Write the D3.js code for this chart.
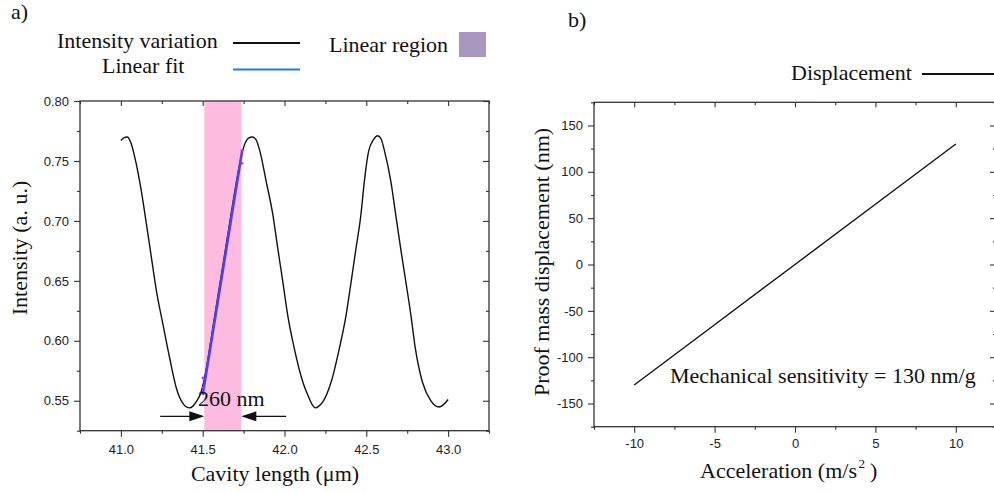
<!DOCTYPE html>
<html>
<head>
<meta charset="utf-8">
<script src="https://cdn.jsdelivr.net/npm/d3@7"></script>
<style>
  html, body { margin: 0; padding: 0; background: #fff; }
  svg { display: block; }
  .tick text { font-family: "Liberation Sans", Arial, sans-serif; font-size: 13px; fill: #222; }
  .serif { font-family: "Liberation Serif", "Times New Roman", serif; fill: #111; }
</style>
</head>
<body>
<svg id="fig" width="994" height="493"></svg>
<script>
// ---- panel a: interferometric intensity vs cavity length ----
const cavityLength = [41.00, 41.02, 41.04, 41.06, 41.085, 41.126, 41.157, 41.187, 41.218, 41.258, 41.299,
  41.34, 41.38, 41.40, 41.42, 41.44, 41.46, 41.49, 41.52, 41.56, 41.60, 41.64, 41.68, 41.72, 41.745,
  41.78, 41.803, 41.825, 41.848, 41.888, 41.929, 41.959, 41.99, 42.02, 42.06, 42.112, 42.152, 42.17,
  42.189, 42.21, 42.234, 42.285, 42.335, 42.376, 42.407, 42.437, 42.467, 42.488, 42.514, 42.545,
  42.569, 42.59, 42.61, 42.65, 42.68, 42.71, 42.742, 42.773, 42.80, 42.843, 42.894, 42.92, 42.945,
  42.97, 43.00];
const intensity = [0.767, 0.7695, 0.770, 0.7655, 0.753, 0.724, 0.6965, 0.669, 0.641, 0.613, 0.585,
  0.560, 0.5476, 0.5448, 0.544, 0.5455, 0.549, 0.557, 0.575, 0.609, 0.643, 0.677, 0.711, 0.743, 0.759,
  0.769, 0.770, 0.768, 0.759, 0.733, 0.705, 0.677, 0.649, 0.621, 0.5935, 0.5656, 0.5517, 0.5465,
  0.544, 0.5455, 0.549, 0.5656, 0.5935, 0.621, 0.649, 0.677, 0.705, 0.733, 0.758, 0.768,
  0.771, 0.7685, 0.759, 0.733, 0.705, 0.677, 0.649, 0.621, 0.5935, 0.5656, 0.550, 0.546, 0.5448,
  0.5465, 0.551];

// linear fit across the linear region
const fitX = [41.50, 41.742];
const fitY = [0.555, 0.759];
// end samples of the linear region
const regionPtsX = [41.502, 41.502, 41.502, 41.74, 41.74];
const regionPtsY = [0.569, 0.561, 0.556, 0.7585, 0.748];
const regionColors = ["#e020d0", "#e020d0", "#1040f0", "#e020d0", "#e020d0"];
const linearRegion = [41.51, 41.736];

const xTicksA = [41.0, 41.5, 42.0, 42.5, 43.0];
const xMinorA = [40.75, 41.25, 41.75, 42.25, 42.75, 43.25];
const yTicksA = [0.55, 0.60, 0.65, 0.70, 0.75, 0.80];
const yMinorA = [0.525, 0.575, 0.625, 0.675, 0.725, 0.775];

// ---- panel b: proof mass displacement vs acceleration ----
const acceleration = [-10, -5, 0, 5, 10];
const displacement = [-130, -65, 0, 65, 130];
const xTicksB = [-10, -5, 0, 5, 10];
const xMinorB = [-12.5, -7.5, -2.5, 2.5, 7.5, 12.5];
const yTicksB = [-150, -100, -50, 0, 50, 100, 150];
const yMinorB = [-175, -125, -75, -25, 25, 75, 125, 175];

const svg = d3.select("#fig");
const axisColor = "#333";
// plain hyphen for negative tick labels
const intFmt = d => String(d);

function frame(x, y, o) {
  const [x0, x1] = x.range();
  const [y0, y1] = y.range(); // y0 bottom, y1 top
  const g = svg.append("g");

  const styleAxis = sel => {
    sel.select(".domain").remove();
    sel.selectAll(".tick line").attr("stroke", axisColor).attr("stroke-width", 1.1);
  };

  // bottom: outward ticks with labels
  g.append("g").attr("transform", `translate(0,${y0})`)
    .call(d3.axisBottom(x).tickValues(o.xMajor).tickSize(6).tickPadding(o.xPad).tickFormat(o.xFmt))
    .call(styleAxis);
  g.append("g").attr("transform", `translate(0,${y0})`)
    .call(d3.axisBottom(x).tickValues(o.xMinor).tickSize(3).tickFormat(""))
    .call(styleAxis);
  // top: inward ticks
  g.append("g").attr("transform", `translate(0,${y1})`)
    .call(d3.axisBottom(x).tickValues(o.xMajor).tickSize(5).tickFormat(""))
    .call(styleAxis);
  g.append("g").attr("transform", `translate(0,${y1})`)
    .call(d3.axisBottom(x).tickValues(o.xMinor).tickSize(3).tickFormat(""))
    .call(styleAxis);
  // left: outward ticks with labels
  g.append("g").attr("transform", `translate(${x0},0)`)
    .call(d3.axisLeft(y).tickValues(o.yMajor).tickSize(6).tickPadding(5).tickFormat(o.yFmt))
    .call(styleAxis);
  g.append("g").attr("transform", `translate(${x0},0)`)
    .call(d3.axisLeft(y).tickValues(o.yMinor).tickSize(3).tickFormat(""))
    .call(styleAxis);
  // right: inward ticks
  g.append("g").attr("transform", `translate(${x1},0)`)
    .call(d3.axisLeft(y).tickValues(o.yMajor).tickSize(6).tickFormat(""))
    .call(styleAxis);
  g.append("g").attr("transform", `translate(${x1},0)`)
    .call(d3.axisLeft(y).tickValues(o.yMinor).tickSize(3).tickFormat(""))
    .call(styleAxis);

  g.append("rect")
    .attr("x", x0).attr("y", y1).attr("width", x1 - x0).attr("height", y0 - y1)
    .attr("fill", "none").attr("stroke", axisColor).attr("stroke-width", 1.3);
  return g;
}

// ================= panel a =================
const xA = d3.scaleLinear().domain([40.75, 43.25]).range([80, 489]);
const yA = d3.scaleLinear().domain([0.525, 0.80]).range([430.7, 101]);

// linear region band
svg.append("rect")
  .attr("x", xA(linearRegion[0])).attr("y", yA(0.80))
  .attr("width", xA(linearRegion[1]) - xA(linearRegion[0]))
  .attr("height", yA(0.525) - yA(0.80))
  .attr("fill", "#fdbcdf");

// intensity curve
svg.append("path")
  .datum(cavityLength.map((c, i) => [c, intensity[i]]))
  .attr("fill", "none").attr("stroke", "#111").attr("stroke-width", 1.4)
  .attr("stroke-linejoin", "round")
  .attr("d", d3.line().x(d => xA(d[0])).y(d => yA(d[1])).curve(d3.curveMonotoneX));

// linear fit
svg.append("path")
  .datum(fitX.map((c, i) => [c, fitY[i]]))
  .attr("fill", "none").attr("stroke", "#5340e4").attr("stroke-width", 2.6)
  .attr("d", d3.line().x(d => xA(d[0])).y(d => yA(d[1])));

svg.selectAll("circle.rp").data(regionPtsX).join("circle")
  .attr("class", "rp")
  .attr("cx", d => xA(d)).attr("cy", (d, i) => yA(regionPtsY[i]))
  .attr("r", 1.4).attr("fill", (d, i) => regionColors[i]);

frame(xA, yA, {
  xMajor: xTicksA, xMinor: xMinorA, yMajor: yTicksA, yMinor: yMinorA,
  xFmt: d3.format(".1f"), yFmt: d3.format(".2f"), xPad: 8
});

// width annotation arrows
const arrowY = yA(0.537);
function arrow(from, to) {
  const x0 = xA(from), x1 = xA(to);
  const dir = Math.sign(x1 - x0);
  svg.append("line").attr("x1", x0).attr("x2", x1 - dir * 12)
    .attr("y1", arrowY).attr("y2", arrowY).attr("stroke", "#111").attr("stroke-width", 1.3);
  svg.append("path")
    .attr("d", `M${x1},${arrowY} L${x1 - dir * 15},${arrowY - 5} L${x1 - dir * 15},${arrowY + 5} Z`)
    .attr("fill", "#111");
}
arrow(41.24, linearRegion[0]);
arrow(42.01, linearRegion[1]);
svg.append("text").attr("class", "serif")
  .attr("x", xA(41.675)).attr("y", yA(0.5455)).attr("text-anchor", "middle")
  .attr("font-size", 22).text("260 nm");

// titles & legend, panel a
svg.append("text").attr("class", "serif").attr("x", 11).attr("y", 19)
  .attr("font-size", 22).text("a)");
svg.append("text").attr("class", "serif")
  .attr("transform", "translate(27,248) rotate(-90)").attr("text-anchor", "middle")
  .attr("font-size", 22).text("Intensity (a. u.)");
svg.append("text").attr("class", "serif")
  .attr("x", 275).attr("y", 481).attr("text-anchor", "middle")
  .attr("font-size", 22).text("Cavity length (μm)");

svg.append("text").attr("class", "serif").attr("x", 57).attr("y", 48)
  .attr("font-size", 22).text("Intensity variation");
svg.append("line").attr("x1", 233).attr("x2", 300).attr("y1", 43).attr("y2", 43)
  .attr("stroke", "#111").attr("stroke-width", 2);
svg.append("text").attr("class", "serif").attr("x", 102).attr("y", 73)
  .attr("font-size", 22).text("Linear fit");
svg.append("line").attr("x1", 233).attr("x2", 300).attr("y1", 69.5).attr("y2", 69.5)
  .attr("stroke", "#1f7fd6").attr("stroke-width", 2);
svg.append("text").attr("class", "serif").attr("x", 329).attr("y", 52)
  .attr("font-size", 22).text("Linear region");
svg.append("rect").attr("x", 459).attr("y", 32).attr("width", 27).attr("height", 25)
  .attr("fill", "#a897c0");

// ================= panel b =================
const xB = d3.scaleLinear().domain([-12.5, 12.5]).range([594, 996]);
const yB = d3.scaleLinear().domain([-175, 175]).range([426.7, 102.3]);

svg.append("path")
  .datum(acceleration.map((a, i) => [a, displacement[i]]))
  .attr("fill", "none").attr("stroke", "#111").attr("stroke-width", 1.4)
  .attr("d", d3.line().x(d => xB(d[0])).y(d => yB(d[1])));

frame(xB, yB, {
  xMajor: xTicksB, xMinor: xMinorB, yMajor: yTicksB, yMinor: yMinorB,
  xFmt: intFmt, yFmt: intFmt, xPad: 6
});

svg.append("text").attr("class", "serif").attr("x", 568).attr("y", 27)
  .attr("font-size", 22).text("b)");
svg.append("text").attr("class", "serif")
  .attr("transform", "translate(549,262) rotate(-90)").attr("text-anchor", "middle")
  .attr("font-size", 22).text("Proof mass displacement (nm)");

// axis title with superscript, laid out piece by piece
const accMain = svg.append("text").attr("class", "serif").attr("x", 700).attr("y", 478)
  .attr("font-size", 22).text("Acceleration (m/s");
const accEnd = 700 + accMain.node().getComputedTextLength();
svg.append("text").attr("class", "serif").attr("x", accEnd + 1.5).attr("y", 468)
  .attr("font-size", 13).text("2");
svg.append("text").attr("class", "serif").attr("x", accEnd + 13).attr("y", 478)
  .attr("font-size", 22).text(")");

svg.append("text").attr("class", "serif").attr("x", 670).attr("y", 383)
  .attr("font-size", 22).text("Mechanical sensitivity = 130 nm/g");

svg.append("text").attr("class", "serif").attr("x", 791).attr("y", 80)
  .attr("font-size", 22).text("Displacement");
svg.append("line").attr("x1", 922).attr("x2", 994).attr("y1", 74).attr("y2", 74)
  .attr("stroke", "#111").attr("stroke-width", 2);
</script>
</body>
</html>
